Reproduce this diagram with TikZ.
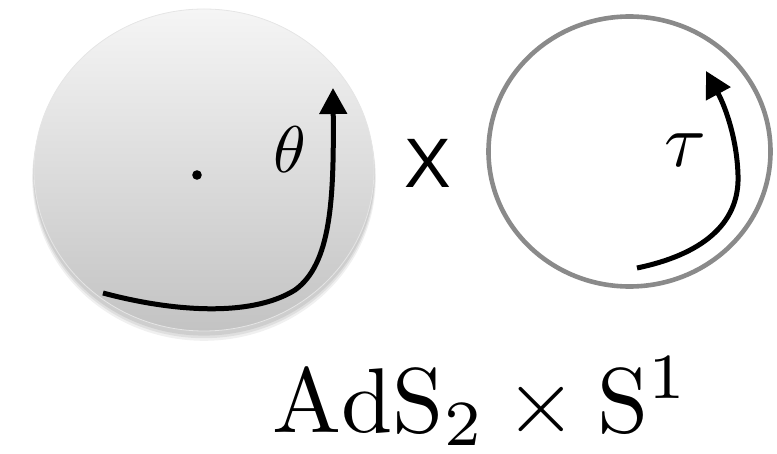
\documentclass[tikz,border=0pt]{standalone}
\usepackage{graphicx}
\usepackage{fontspec}
\newfontfamily\xfont{Liberation Sans}
\usetikzlibrary{arrows.meta}
\definecolor{disctop}{HTML}{F5F5F5}
\definecolor{discbot}{HTML}{C3C3C3}
\definecolor{ringgray}{HTML}{8A8A8A}
\tikzset{
  curvearrow/.style={line width=5pt,-{Triangle[width=27pt,length=26pt]}},
  greek/.style={inner sep=0pt},
}
\begin{document}
\begin{tikzpicture}[x=1pt,y=-1pt]
\useasboundingbox (0,0) rectangle (777,454);
% soft shadow under the disc
\foreach \o/\a in {6/0.06,4/0.07,2/0.08}{
  \fill[black,opacity=\a] (204,172+\o) ellipse [x radius=170+\o*0.3, y radius=161+\o*0.3];
}
% disc
\shade[top color=disctop,bottom color=discbot] (204,170) ellipse [x radius=170, y radius=161];
\draw[black!10,line width=0.8pt] (204,170) ellipse [x radius=170, y radius=161];
% centre dot
\fill (197,175) circle [radius=4.8pt];
\coordinate (dot) at (197,175);
% theta arrow
\coordinate (a1) at (103,293);
\coordinate (a2) at (295,290);
\coordinate (a3) at (333,88);
\draw[curvearrow] (a1) .. controls (170,311) and (250,318) .. (a2)
                       .. controls (331,264) and (334,200) .. (a3);
\node[greek] (theta) at (290,150) {\scalebox{6.6}{$\theta$}};
% times sign
\node[inner sep=0pt] (times) at (428,163) {\xfont\fontsize{70}{72}\selectfont X};
% circle
\draw[ringgray,line width=4.6pt] (629.5,151.5) ellipse [x radius=141, y radius=135];
% tau arrow
\coordinate (b1) at (637,268);
\coordinate (b2) at (738,175);
\coordinate (b3) at (706,71);
\draw[curvearrow] (b1) .. controls (700,255) and (740,225) .. (b2)
                       .. controls (737,140) and (726,108) .. (b3);
\node[greek] (tau) at (685,150) {\scalebox{7.6}{$\tau$}};
% label
\node[inner sep=0pt,anchor=base] (label) at (481.5,432)
  {\scalebox{9.2}{$\mathrm{AdS}_2\times\mathrm{S}^1$}};
\end{tikzpicture}
\end{document}
